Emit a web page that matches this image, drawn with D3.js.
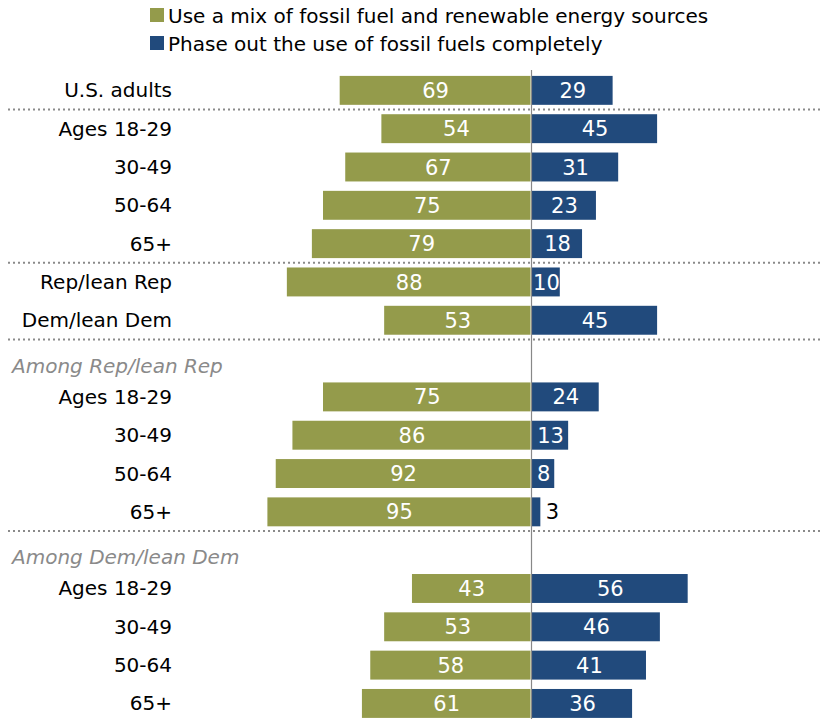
<!DOCTYPE html>
<html>
<head>
<meta charset="utf-8">
<script src="https://cdn.jsdelivr.net/npm/d3@7"></script>
<style>
  body { margin: 0; background: #fff; }
  svg { display: block; }
  text { font-family: "DejaVu Sans", "Liberation Sans", Arial, sans-serif; }
</style>
</head>
<body>
<svg id="chart" width="825" height="719"></svg>
<script>
// Row labels, in display order; subheaders carry no values
const rowLabels = [
  "U.S. adults",
  "Ages 18-29", "30-49", "50-64", "65+",
  "Rep/lean Rep", "Dem/lean Dem",
  "Among Rep/lean Rep",
  "Ages 18-29", "30-49", "50-64", "65+",
  "Among Dem/lean Dem",
  "Ages 18-29", "30-49", "50-64", "65+"
];
const rowKinds = [
  "row", "row", "row", "row", "row", "row", "row",
  "head", "row", "row", "row", "row",
  "head", "row", "row", "row", "row"
];
// % saying use a mix of fossil fuel and renewable sources
const mixValues = [69, 54, 67, 75, 79, 88, 53, null, 75, 86, 92, 95, null, 43, 53, 58, 61];
// % saying phase out fossil fuels completely
const phaseOutValues = [29, 45, 31, 23, 18, 10, 45, null, 24, 13, 8, 3, null, 56, 46, 41, 36];
// Dotted separators drawn after these row indices
const separatorsAfter = [0, 4, 6, 11];

const seriesNames = [
  "Use a mix of fossil fuel and renewable energy sources",
  "Phase out the use of fossil fuels completely"
];
const colors = ["#949b4b", "#214a7c"];

const svg = d3.select("#chart");
const center = 531.5;
const pxPerPoint = 2.78;

const x = d3.scaleLinear()
  .domain([-100, 100])
  .range([center - 100 * pxPerPoint, center + 100 * pxPerPoint]);

const y = d3.scaleBand()
  .domain(d3.range(rowLabels.length))
  .range([71.3, 722.5])
  .paddingInner(0.245)
  .paddingOuter(0.12);

const bh = y.bandwidth();

// Legend
const legend = svg.append("g");
seriesNames.forEach((name, i) => {
  const g = legend.append("g").attr("transform", `translate(150, ${8 + i * 28})`);
  g.append("rect").attr("width", 14).attr("height", 14).attr("fill", colors[i]);
  g.append("text").attr("x", 18).attr("y", 14.5)
    .attr("font-size", 20).attr("fill", "#000").text(name);
});

// Separators
separatorsAfter.forEach(i => {
  const yy = (y(i) + bh + y(i + 1)) / 2;
  svg.append("line")
    .attr("x1", 8).attr("x2", 822)
    .attr("y1", yy).attr("y2", yy)
    .attr("stroke", "#8a8a8a").attr("stroke-width", 2)
    .attr("stroke-dasharray", "2,3");
});

// Row labels
const idx = d3.range(rowLabels.length);
svg.append("g").selectAll("text")
  .data(idx)
  .join("text")
  .attr("x", d => rowKinds[d] === "head" ? 12 : 172)
  .attr("y", d => y(d) + bh / 2 + (rowKinds[d] === "head" ? 7 : 0))
  .attr("dy", "0.35em")
  .attr("text-anchor", d => rowKinds[d] === "head" ? "start" : "end")
  .attr("font-size", 20)
  .attr("font-style", d => rowKinds[d] === "head" ? "italic" : "normal")
  .attr("fill", d => rowKinds[d] === "head" ? "#8a8a8a" : "#000")
  .text(d => rowLabels[d]);

const dataRows = idx.filter(i => rowKinds[i] === "row");

// Left bars (mix)
svg.append("g").selectAll("rect")
  .data(dataRows)
  .join("rect")
  .attr("x", d => x(-mixValues[d]))
  .attr("width", d => x(0) - x(-mixValues[d]) - 1)
  .attr("y", d => y(d))
  .attr("height", bh)
  .attr("fill", colors[0]);

// Right bars (phase out)
svg.append("g").selectAll("rect")
  .data(dataRows)
  .join("rect")
  .attr("x", x(0) + 0.5)
  .attr("width", d => x(phaseOutValues[d]) - x(0))
  .attr("y", d => y(d))
  .attr("height", bh)
  .attr("fill", colors[1]);

// Center axis line
svg.append("line")
  .attr("x1", x(0)).attr("x2", x(0))
  .attr("y1", 70).attr("y2", 719)
  .attr("stroke", "#888").attr("stroke-width", 1.2);

// Value labels
svg.append("g").selectAll("text")
  .data(dataRows)
  .join("text")
  .attr("x", d => (x(-mixValues[d]) + x(0)) / 2)
  .attr("y", d => y(d) + bh / 2)
  .attr("dy", "0.36em")
  .attr("text-anchor", "middle")
  .attr("font-size", 21)
  .attr("fill", "#fff")
  .text(d => mixValues[d]);

svg.append("g").selectAll("text")
  .data(dataRows)
  .join("text")
  .attr("x", d => phaseOutValues[d] < 8 ? x(phaseOutValues[d]) + 6 : (x(0) + x(phaseOutValues[d])) / 2 + 1)
  .attr("y", d => y(d) + bh / 2)
  .attr("dy", "0.36em")
  .attr("text-anchor", d => phaseOutValues[d] < 8 ? "start" : "middle")
  .attr("font-size", 21)
  .attr("fill", d => phaseOutValues[d] < 8 ? "#000" : "#fff")
  .text(d => phaseOutValues[d]);
</script>
</body>
</html>
